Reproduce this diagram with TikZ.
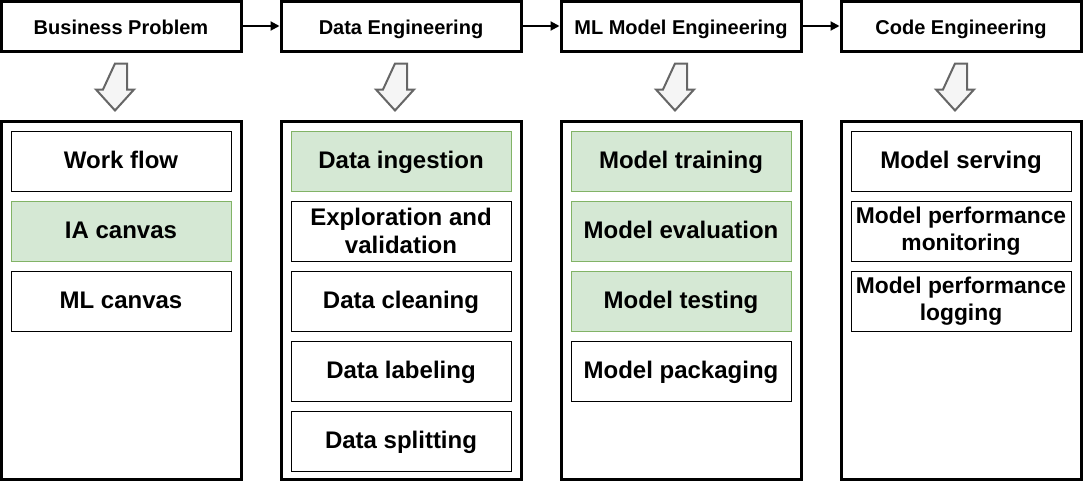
\documentclass[tikz,border=0pt]{standalone}
\usepackage{fontspec}
\setmainfont{Liberation Sans}
\usetikzlibrary{arrows.meta,calc}
\definecolor{gfill}{HTML}{D5E8D4}
\definecolor{gline}{HTML}{82B366}
\definecolor{afill}{HTML}{F5F5F5}
\definecolor{aline}{HTML}{666666}
\begin{document}
\begin{tikzpicture}[x=1pt,y=-1pt,
  head/.style={draw=black,line width=3pt,fill=white,minimum width=240pt,minimum height=50pt,inner sep=0pt,font=\fontsize{20}{24}\selectfont\bfseries,text height=17pt,text depth=0.6pt},
  panel/.style={draw=black,line width=3pt,fill=white,minimum width=240pt,minimum height=358pt,inner sep=0pt},
  item/.style={draw=black,line width=1pt,fill=white,minimum width=220pt,minimum height=60pt,inner sep=0pt,align=center,font=\fontsize{24}{28}\selectfont\bfseries},
  one/.style={text height=17pt,text depth=1.8pt},
  small/.style={font=\fontsize{22.8}{26.5}\selectfont\bfseries},
  gitem/.style={item,fill=gfill,draw=gline},
  flow/.style={line width=2pt,-{Triangle[length=9pt,width=9pt]}},
  hollow/.style={draw=aline,fill=afill,line width=2pt,line join=miter}
]
\useasboundingbox (0,0) rectangle (1083,482);
% headers
\node[head] (h1) at (121,26) {Business Problem};
\node[head] (h2) at (401,26) {Data Engineering};
\node[head] (h3) at (681,26) {ML Model Engineering};
\node[head] (h4) at (961,26) {Code Engineering};
\draw[flow] (h1) -- (h2);
\draw[flow] (h2) -- (h3);
\draw[flow] (h3) -- (h4);
% panels
\node[panel] (p1) at (121,300) {};
\node[panel] (p2) at (401,300) {};
\node[panel] (p3) at (681,300) {};
\node[panel] (p4) at (961,300) {};
% hollow arrows
\foreach \h in {h1,h2,h3,h4}{
  \draw[hollow] ($(\h.south)+(-6,11)$) -- ++(12,0) -- ++(0,26) -- ++(7,0) -- ++(-19,21) -- ++(-19,-21) -- ++(7,0) -- cycle;
}
% column 1
\node[item,one]  (a1) at (121,161) {Work flow};
\node[gitem,one] (a2) at (121,231) {IA canvas};
\node[item,one]  (a3) at (121,301) {ML canvas};
% column 2
\node[gitem,one] (b1) at (401,161) {Data ingestion};
\node[item]      (b2) at (401,231) {Exploration and\\validation};
\node[item,one]  (b3) at (401,301) {Data cleaning};
\node[item,one]  (b4) at (401,371) {Data labeling};
\node[item,one]  (b5) at (401,441) {Data splitting};
% column 3
\node[gitem,one] (c1) at (681,161) {Model training};
\node[gitem,one] (c2) at (681,231) {Model evaluation};
\node[gitem,one] (c3) at (681,301) {Model testing};
\node[item,one]  (c4) at (681,371) {Model packaging};
% column 4
\node[item,one] (d1) at (961,161) {Model serving};
\node[item,small] (d2) at (961,231) {Model performance\\monitoring};
\node[item,small] (d3) at (961,301) {Model performance\\logging};
\end{tikzpicture}
\end{document}
